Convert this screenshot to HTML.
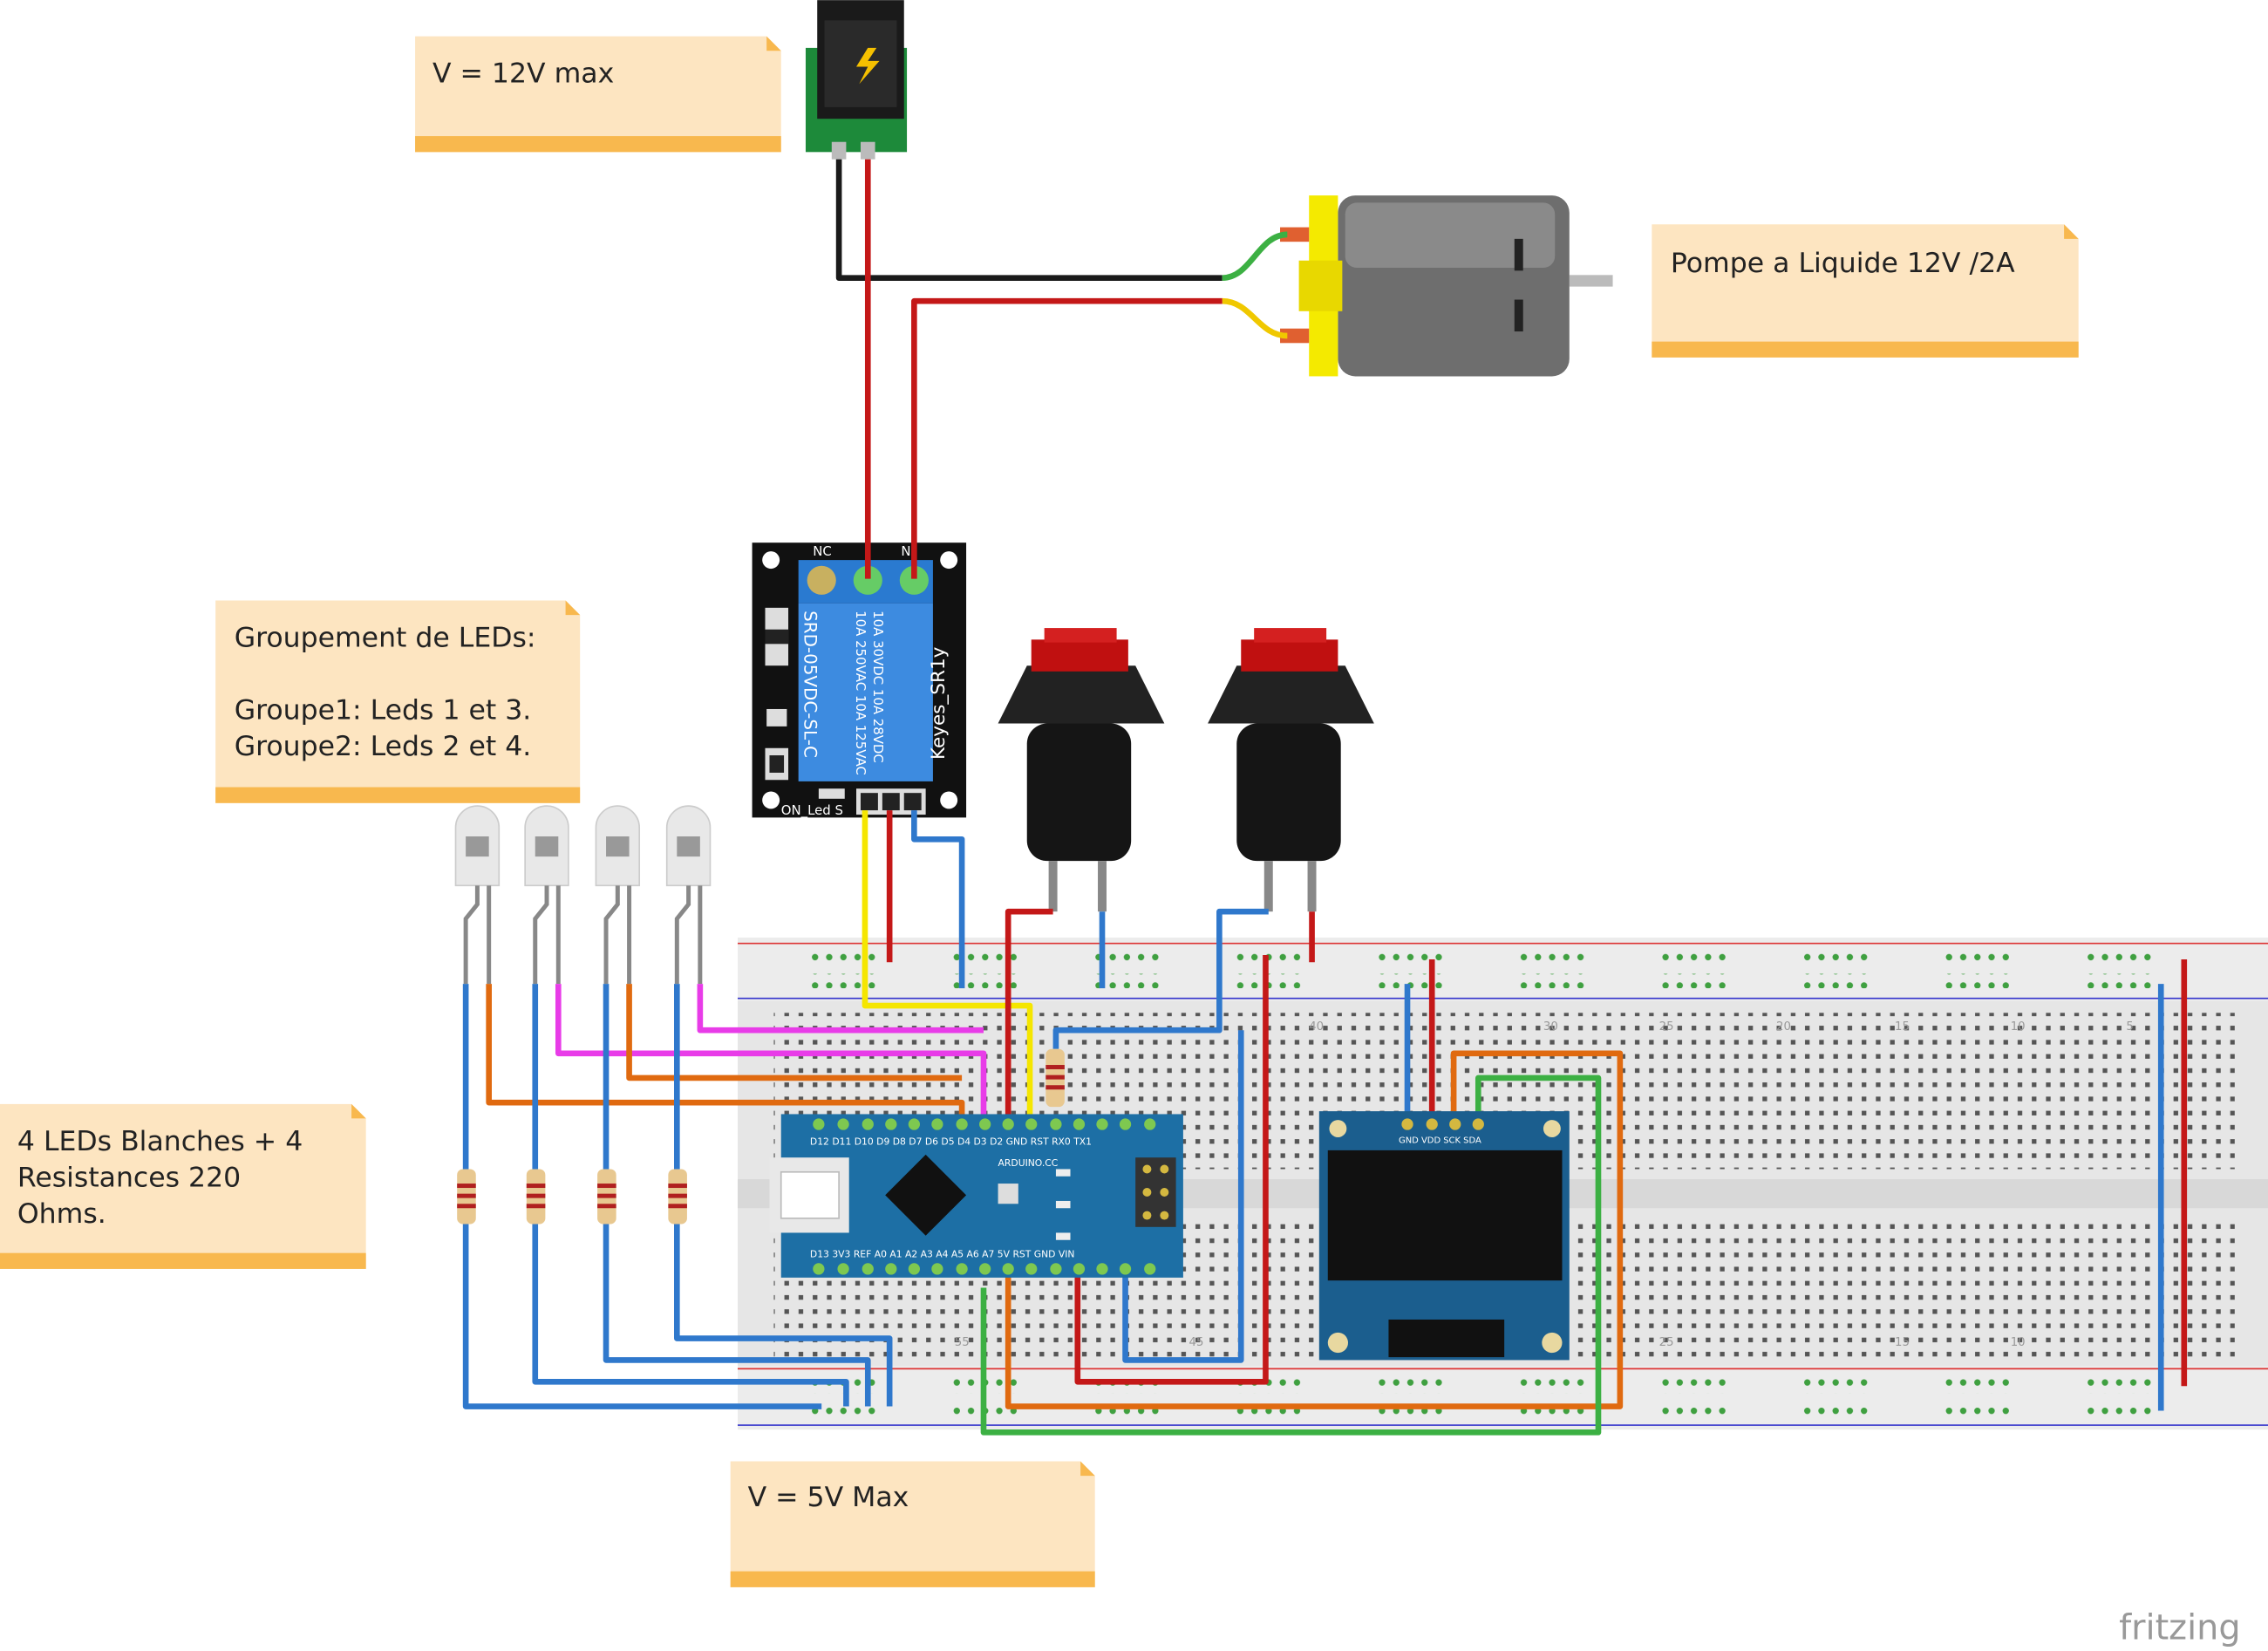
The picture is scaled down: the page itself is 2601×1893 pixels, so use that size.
<!DOCTYPE html>
<html><head><meta charset="utf-8"><style>
html,body{margin:0;padding:0;background:#fff;}
svg{display:block;}
text{font-family:"DejaVu Sans","Liberation Sans",sans-serif;}
</style></head><body>
<svg width="2601" height="1893" viewBox="0 0 1568 1141" xmlns="http://www.w3.org/2000/svg">
<defs>
<pattern id="h" x="0" y="0" width="9.8" height="9.8" patternUnits="userSpaceOnUse">
<rect x="3.3" y="3.3" width="3.2" height="3.2" fill="#555"/></pattern>
<pattern id="hg" x="0" y="0" width="9.8" height="9.8" patternUnits="userSpaceOnUse">
<circle cx="4.9" cy="4.9" r="2.2" fill="#3fa040"/></pattern>
</defs>
<rect width="1568" height="1141" fill="#fff"/>

<g>
<path d="M287 25 H530 L540 35 V105 H287 Z" fill="#fde5c1"/><rect x="287" y="94" width="253" height="11" fill="#f8b84e"/><path d="M530 25 L540 35 H530Z" fill="#f8b84e"/>
<text x="299" y="57" font-size="19" fill="#222">V = 12V max</text>
<path d="M1142 155 H1427 L1437 165 V247 H1142 Z" fill="#fde5c1"/><rect x="1142" y="236" width="295" height="11" fill="#f8b84e"/><path d="M1427 155 L1437 165 H1427Z" fill="#f8b84e"/>
<text x="1155" y="188" font-size="19" fill="#222">Pompe a Liquide 12V /2A</text>
<path d="M149 415 H391 L401 425 V555 H149 Z" fill="#fde5c1"/><rect x="149" y="544" width="252" height="11" fill="#f8b84e"/><path d="M391 415 L401 425 H391Z" fill="#f8b84e"/>
<text x="162" y="447" font-size="19" fill="#222">Groupement de LEDs:</text>
<text x="162" y="497" font-size="19" fill="#222">Groupe1: Leds 1 et 3.</text>
<text x="162" y="522" font-size="19" fill="#222">Groupe2: Leds 2 et 4.</text>
<path d="M0 763 H243 L253 773 V877 H0 Z" fill="#fde5c1"/><rect x="0" y="866" width="253" height="11" fill="#f8b84e"/><path d="M243 763 L253 773 H243Z" fill="#f8b84e"/>
<text x="12" y="795" font-size="19" fill="#222">4 LEDs Blanches + 4</text>
<text x="12" y="820" font-size="19" fill="#222">Resistances 220</text>
<text x="12" y="845" font-size="19" fill="#222">Ohms.</text>
<path d="M505 1010 H747 L757 1020 V1097 H505 Z" fill="#fde5c1"/><rect x="505" y="1086" width="252" height="11" fill="#f8b84e"/><path d="M747 1010 L757 1020 H747Z" fill="#f8b84e"/>
<text x="517" y="1041" font-size="19" fill="#222">V = 5V Max</text>
</g>

<g>
<rect x="510" y="648" width="1058" height="340" fill="#e6e6e6"/>
<rect x="510" y="648" width="1058" height="44" fill="#ececec"/>
<line x1="510" y1="652" x2="1568" y2="652" stroke="#d33" stroke-width="1"/>
<line x1="510" y1="690" x2="1568" y2="690" stroke="#33c" stroke-width="1"/>
<rect x="510" y="944" width="1058" height="44" fill="#ececec"/>
<line x1="510" y1="946" x2="1568" y2="946" stroke="#d33" stroke-width="1"/>
<line x1="510" y1="985" x2="1568" y2="985" stroke="#33c" stroke-width="1"/>
<rect x="510" y="815" width="1058" height="20" fill="#d8d8d8"/>
<rect x="535" y="700" width="1010" height="108" fill="url(#h)"/>
<rect x="535" y="842" width="1010" height="98" fill="url(#h)"/>
<g fill="url(#hg)">
<rect x="560" y="658" width="50" height="10"/><rect x="658" y="658" width="50" height="10"/><rect x="756" y="658" width="50" height="10"/><rect x="854" y="658" width="50" height="10"/><rect x="952" y="658" width="50" height="10"/><rect x="1050" y="658" width="50" height="10"/><rect x="1148" y="658" width="50" height="10"/><rect x="1246" y="658" width="50" height="10"/><rect x="1344" y="658" width="50" height="10"/><rect x="1442" y="658" width="50" height="10"/>
<rect x="560" y="673" width="50" height="10"/><rect x="658" y="673" width="50" height="10"/><rect x="756" y="673" width="50" height="10"/><rect x="854" y="673" width="50" height="10"/><rect x="952" y="673" width="50" height="10"/><rect x="1050" y="673" width="50" height="10"/><rect x="1148" y="673" width="50" height="10"/><rect x="1246" y="673" width="50" height="10"/><rect x="1344" y="673" width="50" height="10"/><rect x="1442" y="673" width="50" height="10"/>
<rect x="560" y="953" width="50" height="10"/><rect x="658" y="953" width="50" height="10"/><rect x="756" y="953" width="50" height="10"/><rect x="854" y="953" width="50" height="10"/><rect x="952" y="953" width="50" height="10"/><rect x="1050" y="953" width="50" height="10"/><rect x="1148" y="953" width="50" height="10"/><rect x="1246" y="953" width="50" height="10"/><rect x="1344" y="953" width="50" height="10"/><rect x="1442" y="953" width="50" height="10"/>
<rect x="560" y="968" width="50" height="10"/><rect x="658" y="968" width="50" height="10"/><rect x="756" y="968" width="50" height="10"/><rect x="854" y="968" width="50" height="10"/><rect x="952" y="968" width="50" height="10"/><rect x="1050" y="968" width="50" height="10"/><rect x="1148" y="968" width="50" height="10"/><rect x="1246" y="968" width="50" height="10"/><rect x="1344" y="968" width="50" height="10"/><rect x="1442" y="968" width="50" height="10"/>
</g>
<g font-size="8" fill="#999">
<text x="905" y="712">40</text><text x="1067" y="712">30</text><text x="1228" y="712">20</text><text x="1390" y="712">10</text><text x="1147" y="712">25</text><text x="1310" y="712">15</text><text x="1470" y="712">5</text>
<text x="660" y="930">55</text><text x="822" y="930">45</text><text x="1147" y="930">25</text><text x="1310" y="930">15</text><text x="1390" y="930">10</text>
</g>
</g>

<g>
<rect x="557" y="33" width="70" height="72" fill="#1d8a3a"/>
<rect x="565" y="0" width="60" height="82" fill="#1a1a1a"/>
<rect x="570" y="14" width="50" height="60" fill="#2a2a2a"/>
<path d="M600 33 L592 46 H600 L594 58 L608 42 H600 L606 33Z" fill="#f5c000"/>
<rect x="575" y="98" width="10" height="12" fill="#bbb"/><rect x="595" y="98" width="10" height="12" fill="#bbb"/>
</g>

<g>
<rect x="1085" y="190" width="30" height="8" fill="#bbb"/>
<rect x="925" y="135" width="160" height="125" rx="12" fill="#6e6e6e"/>
<rect x="930" y="140" width="145" height="45" rx="8" fill="#8a8a8a"/>
<rect x="1047" y="165" width="6" height="22" fill="#222"/><rect x="1047" y="207" width="6" height="22" fill="#222"/>
<rect x="905" y="135" width="20" height="125" fill="#f4ea00"/>
<rect x="898" y="180" width="30" height="35" fill="#e8d800"/>
<rect x="885" y="157" width="20" height="10" fill="#e06030"/><rect x="885" y="227" width="20" height="10" fill="#e06030"/>
</g>

<g>
<rect x="520" y="375" width="148" height="190" fill="#111"/>
<circle cx="533" cy="387" r="6" fill="#fff"/><circle cx="656" cy="387" r="6" fill="#fff"/><circle cx="533" cy="553" r="6" fill="#fff"/><circle cx="656" cy="553" r="6" fill="#fff"/>
<rect x="552" y="387" width="93" height="30" fill="#2a7ad0"/>
<circle cx="568" cy="401" r="10" fill="#c8b060"/><circle cx="600" cy="401" r="10" fill="#6c6"/><circle cx="632" cy="401" r="10" fill="#6c6"/>
<rect x="552" y="417" width="93" height="123" fill="#3d8be0"/>
<text font-size="12" fill="#fff" transform="translate(556,422) rotate(90)">SRD-05VDC-SL-C</text>
<text font-size="9" fill="#fff" transform="translate(592,422) rotate(90)">10A 250VAC  10A 125VAC</text>
<text font-size="9" fill="#fff" transform="translate(604,422) rotate(90)">10A  30VDC  10A  28VDC</text>
<text font-size="13" fill="#fff" transform="translate(653,525) rotate(-90)">Keyes_SR1y</text>
<text x="562" y="384" font-size="9" fill="#fff">NC</text><text x="623" y="384" font-size="9" fill="#fff">N</text>
<rect x="529" y="420" width="16" height="40" fill="#ddd"/><rect x="529" y="435" width="16" height="10" fill="#222"/>
<rect x="530" y="490" width="14" height="12" fill="#ddd"/><rect x="529" y="517" width="16" height="22" fill="#ddd"/><rect x="532" y="522" width="10" height="12" fill="#222"/>
<text x="540" y="563" font-size="9" fill="#fff">ON_Led  S</text>
<rect x="566" y="545" width="18" height="7" fill="#ddd"/>
<rect x="592" y="545" width="48" height="18" fill="#ddd"/><rect x="595" y="548" width="12" height="12" fill="#222"/><rect x="610" y="548" width="12" height="12" fill="#222"/><rect x="625" y="548" width="12" height="12" fill="#222"/>
</g>

<g>
<rect x="710" y="500" width="72" height="95" rx="14" fill="#151515"/>
<path d="M690 500 L710 460 H785 L805 500 Z" fill="#222"/>
<rect x="713" y="442" width="67" height="22" fill="#c01010"/><rect x="722" y="434" width="50" height="10" fill="#d42020"/>
<rect x="725" y="595" width="6" height="35" fill="#888"/><rect x="759" y="595" width="6" height="35" fill="#888"/>
<rect x="855" y="500" width="72" height="95" rx="14" fill="#151515"/>
<path d="M835 500 L855 460 H930 L950 500 Z" fill="#222"/>
<rect x="858" y="442" width="67" height="22" fill="#c01010"/><rect x="867" y="434" width="50" height="10" fill="#d42020"/>
<rect x="874" y="595" width="6" height="35" fill="#888"/><rect x="904" y="595" width="6" height="35" fill="#888"/>
</g>

<g>
<g fill="#e8e8e8" stroke="#ccc">
<path d="M315 612 V572 a15 15 0 0 1 30 0 V612Z"/><path d="M363 612 V572 a15 15 0 0 1 30 0 V612Z"/><path d="M412 612 V572 a15 15 0 0 1 30 0 V612Z"/><path d="M461 612 V572 a15 15 0 0 1 30 0 V612Z"/>
</g>
<g fill="#999">
<path d="M322 578 H338 V592 H322Z M324 590 L336 580 V590Z"/><path d="M370 578 H386 V592 H370Z"/><path d="M419 578 H435 V592 H419Z"/><path d="M468 578 H484 V592 H468Z"/>
</g>
<g stroke="#888" stroke-width="3" fill="none">
<path d="M330 612 V625 L322 635 V680"/><path d="M338 612 V680"/>
<path d="M378 612 V625 L370 635 V680"/><path d="M386 612 V680"/>
<path d="M427 612 V625 L419 635 V680"/><path d="M435 612 V680"/>
<path d="M476 612 V625 L468 635 V680"/><path d="M484 612 V680"/>
</g>
</g>

<g fill="none" stroke-width="4" stroke-linejoin="round">
<path d="M580 110 V192 H845" stroke="#1a1a1a"/>
<path d="M845 192 C865 192 870 162 890 162" stroke="#3cb043"/>
<path d="M845 208 C865 208 870 232 890 232" stroke="#f0c800"/>
<path d="M600 110 V400" stroke="#c41818"/>
<path d="M632 400 V208 H845" stroke="#c41818"/>
<path d="M598 560 V695 H712 V778" stroke="#f5e600"/>
<path d="M615 560 V665" stroke="#c41818"/>
<path d="M632 560 V580 H665 V683" stroke="#2f78cc"/>
<path d="M728 630 H697 V778" stroke="#c41818"/>
<path d="M762 630 V683" stroke="#2f78cc"/>
<path d="M877 630 H843 V712 H730 V725" stroke="#2f78cc"/>
<path d="M907 630 V665" stroke="#c41818"/>
<path d="M875 660 V955 H745 V878" stroke="#c41818"/>
<path d="M858 712 V940 H778 V878" stroke="#2f78cc"/>
<path d="M386 680 V728 H680 V778" stroke="#e83ce8"/>
<path d="M484 680 V712 H680" stroke="#e83ce8"/>
<path d="M338 680 V762 H665 V778" stroke="#e06a10"/>
<path d="M435 680 V745 H665" stroke="#e06a10"/>
<path d="M322 680 V810 M322 845 V972 H568" stroke="#2f78cc"/>
<path d="M370 680 V810 M370 845 V955 H585 V972" stroke="#2f78cc"/>
<path d="M419 680 V810 M419 845 V940 H600 V972" stroke="#2f78cc"/>
<path d="M468 680 V810 M468 845 V925 H615 V972" stroke="#2f78cc"/>
<path d="M973 680 V780" stroke="#2f78cc"/>
<path d="M990 663 V780" stroke="#c41818"/>
<path d="M1005 780 V728 H1120 V972 H697 V878" stroke="#e06a10"/>
<path d="M1022 780 V745 H1105 V990 H680 V890" stroke="#3cb043"/>
<path d="M1494 680 V975" stroke="#2f78cc"/>
<path d="M1510 663 V958" stroke="#c41818"/>
</g>

<g>
<g fill="#e8c890"><rect x="316" y="808" width="13" height="38" rx="4"/><rect x="364" y="808" width="13" height="38" rx="4"/><rect x="413" y="808" width="13" height="38" rx="4"/><rect x="462" y="808" width="13" height="38" rx="4"/><rect x="723" y="725" width="13" height="40" rx="4"/></g>
<g fill="#b02020"><rect x="316" y="818" width="13" height="3"/><rect x="316" y="825" width="13" height="3"/><rect x="316" y="832" width="13" height="3"/><rect x="364" y="818" width="13" height="3"/><rect x="364" y="825" width="13" height="3"/><rect x="364" y="832" width="13" height="3"/><rect x="413" y="818" width="13" height="3"/><rect x="413" y="825" width="13" height="3"/><rect x="413" y="832" width="13" height="3"/><rect x="462" y="818" width="13" height="3"/><rect x="462" y="825" width="13" height="3"/><rect x="462" y="832" width="13" height="3"/><rect x="723" y="736" width="13" height="3"/><rect x="723" y="743" width="13" height="3"/><rect x="723" y="750" width="13" height="3"/></g>
</g>

<g>
<rect x="540" y="770" width="278" height="113" fill="#1d6fa5"/>
<rect x="532" y="800" width="55" height="52" fill="#e8e8e8"/>
<rect x="540" y="810" width="40" height="32" fill="#fff" stroke="#bbb"/>
<path d="M612 826 L640 798 L668 826 L640 854Z" fill="#111"/>
<rect x="690" y="818" width="14" height="14" fill="#ddd"/>
<rect x="785" y="800" width="28" height="48" fill="#333"/>
<g fill="#d4b840"><circle cx="793" cy="808" r="3"/><circle cx="805" cy="808" r="3"/><circle cx="793" cy="824" r="3"/><circle cx="805" cy="824" r="3"/><circle cx="793" cy="840" r="3"/><circle cx="805" cy="840" r="3"/></g>
<g fill="#eee"><rect x="730" y="808" width="10" height="5"/><rect x="730" y="830" width="10" height="5"/><rect x="730" y="852" width="10" height="5"/></g>
<g fill="#7ec850">
<circle cx="566" cy="777" r="4"/><circle cx="583" cy="777" r="4"/><circle cx="600" cy="777" r="4"/><circle cx="616" cy="777" r="4"/><circle cx="632" cy="777" r="4"/><circle cx="648" cy="777" r="4"/><circle cx="665" cy="777" r="4"/><circle cx="681" cy="777" r="4"/><circle cx="697" cy="777" r="4"/><circle cx="713" cy="777" r="4"/><circle cx="730" cy="777" r="4"/><circle cx="746" cy="777" r="4"/><circle cx="762" cy="777" r="4"/><circle cx="778" cy="777" r="4"/><circle cx="795" cy="777" r="4"/>
<circle cx="566" cy="877" r="4"/><circle cx="583" cy="877" r="4"/><circle cx="600" cy="877" r="4"/><circle cx="616" cy="877" r="4"/><circle cx="632" cy="877" r="4"/><circle cx="648" cy="877" r="4"/><circle cx="665" cy="877" r="4"/><circle cx="681" cy="877" r="4"/><circle cx="697" cy="877" r="4"/><circle cx="713" cy="877" r="4"/><circle cx="730" cy="877" r="4"/><circle cx="746" cy="877" r="4"/><circle cx="762" cy="877" r="4"/><circle cx="778" cy="877" r="4"/><circle cx="795" cy="877" r="4"/>
</g>
<text x="560" y="791" font-size="6.5" fill="#fff">D12 D11 D10  D9  D8  D7  D6  D5  D4  D3  D2  GND RST RX0 TX1</text>
<text x="560" y="869" font-size="6.5" fill="#fff">D13 3V3 REF  A0  A1  A2  A3  A4  A5  A6  A7  5V  RST GND VIN</text>
<text x="690" y="806" font-size="6.5" fill="#fff">ARDUINO.CC</text>
</g>

<g>
<rect x="912" y="768" width="173" height="172" fill="#1b5e8e"/>
<rect x="918" y="795" width="162" height="90" fill="#111"/>
<rect x="960" y="912" width="80" height="26" fill="#111"/>
<circle cx="925" cy="780" r="6" fill="#e8d8a0"/><circle cx="1073" cy="780" r="6" fill="#e8d8a0"/><circle cx="925" cy="928" r="7" fill="#e8d8a0"/><circle cx="1073" cy="928" r="7" fill="#e8d8a0"/>
<g fill="#d4b840"><circle cx="973" cy="777" r="4"/><circle cx="990" cy="777" r="4"/><circle cx="1006" cy="777" r="4"/><circle cx="1022" cy="777" r="4"/></g>
<text x="967" y="790" font-size="6" fill="#fff">GND VDD SCK SDA</text>
</g>

<text x="1465" y="1133" font-size="24" fill="#999" font-family="Liberation Sans, sans-serif">fritzing</text>
</svg>
</body></html>
